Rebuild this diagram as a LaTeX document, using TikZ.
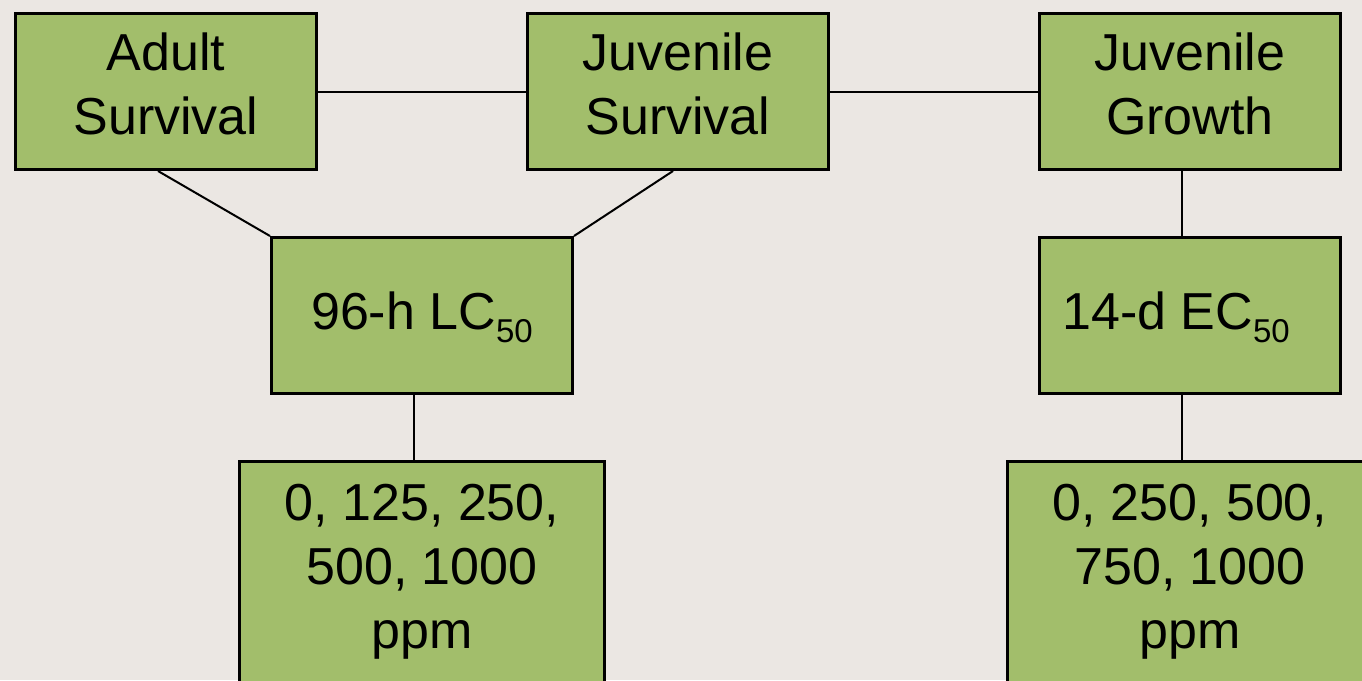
\documentclass[tikz,border=0pt]{standalone}
\usepackage{fontspec}
\setmainfont{Liberation Sans}
\definecolor{bgpaper}{HTML}{EBE7E3}
\definecolor{boxgreen}{HTML}{A2BE6B}
\newcommand{\subnum}[1]{\raisebox{-13pt}{\fontsize{33}{33}\selectfont #1}}
\begin{document}
\begin{tikzpicture}[x=1pt, y=-1pt,
  box/.style={draw=black, line width=3pt, fill=boxgreen, rectangle,
    inner sep=0pt, anchor=north west, minimum width=301pt, minimum height=156pt},
  widebox/.style={box, minimum width=365pt, minimum height=300pt},
  txt/.style={inner sep=0pt, anchor=north, align=center,
    font=\fontsize{52}{64}\selectfont},
  link/.style={draw=black, line width=2pt}]
  \clip (0,0) rectangle (1362,680);
  \fill[bgpaper] (0,0) rectangle (1362,680);

  % top row
  \node[box] (adult) at (14,12) {};
  \node[box] (juvs)  at (526,12) {};
  \node[box] (juvg)  at (1038,12) {};
  % middle row
  \node[box] (lc) at (270,236) {};
  \node[box] (ec) at (1038,236) {};
  % concentration boxes
  \node[widebox] (lcc) at (238,460) {};
  \node[widebox] (ecc) at (1006,460) {};

  % labels
  \node[txt] (tadult) at (166,33) {Adult\\Survival};
  \node[txt] (tjuvs)  at (678,33) {Juvenile\\Survival};
  \node[txt] (tjuvg)  at (1190,33) {Juvenile\\Growth};
  \node[txt] (tlc) at (422,292) {96-h LC\subnum{50}};
  \node[txt] (tec) at (1176,292) {14-d EC\subnum{50}};
  \node[txt] (tlcc) at (422,484) {0, 125, 250,\\500, 1000\\ppm};
  \node[txt] (tecc) at (1190,484) {0, 250, 500,\\750, 1000\\ppm};

  % connectors
  \draw[link] (adult.east) -- (juvs.west);
  \draw[link] (juvs.east) -- (juvg.west);
  \draw[link] ([xshift=-8pt]adult.south) -- (lc.north west);
  \draw[link] ([xshift=-5pt]juvs.south) -- (lc.north east);
  \draw[link] ([xshift=-8pt]juvg.south) -- ([xshift=-8pt]ec.north);
  \draw[link] ([xshift=-8pt]lc.south) -- ([xshift=-8pt]lcc.north);
  \draw[link] ([xshift=-8pt]ec.south) -- ([xshift=-8pt]ecc.north);
\end{tikzpicture}
\end{document}
